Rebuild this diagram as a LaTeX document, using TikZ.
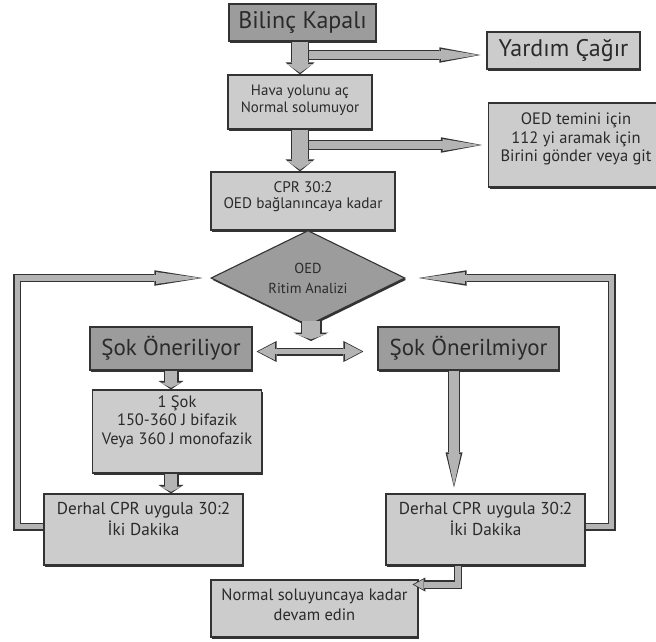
\documentclass[tikz,border=0pt]{standalone}
\usepackage{fontspec}
\setmainfont{PT Sans}
\usetikzlibrary{shapes,arrows.meta,calc,shadows}

\definecolor{boxfill}{HTML}{CCCCCC}
\definecolor{keyfill}{HTML}{9C9C9C}
\definecolor{pipefill}{HTML}{B4B4B4}
\definecolor{edgeline}{HTML}{333333}
\definecolor{inkline}{HTML}{2A2A2A}

\tikzset{
  box/.style={draw=edgeline, line width=1.1pt, fill=boxfill, text=inkline,
    inner sep=0pt, align=center,
    drop shadow={shadow xshift=1.2pt, shadow yshift=-1.8pt, fill=edgeline, opacity=1}},
  keybox/.style={box, fill=keyfill},
  txt/.style 2 args={font=\fontsize{#1}{#2}\selectfont},
  band/.style 2 args={text height=#1, text depth=#2},
  % block arrow: shaft width, head width, head length
  pipe/.style n args={3}{
    /utils/exec={\pgfmathsetlengthmacro\pipeS{#1+2.4pt}%
      \pgfmathsetlengthmacro\pipeW{#2+3.6pt}%
      \pgfmathsetlengthmacro\pipeL{#3+3.4pt}},
    preaction={draw=edgeline, line width=\pipeS, shorten >=0pt,
      -{Triangle[length=\pipeL, width=\pipeW, line width=0pt]}},
    draw=pipefill, line width=#1, shorten >=1.7pt,
    -{Triangle[length=#3, width=#2, line width=0pt]}},
  pipes/.style n args={3}{
    /utils/exec={\pgfmathsetlengthmacro\pipeS{#1+2.4pt}%
      \pgfmathsetlengthmacro\pipeW{#2+3.6pt}%
      \pgfmathsetlengthmacro\pipeL{#3+3.4pt}},
    preaction={draw=edgeline, line width=\pipeS, shorten >=0pt, shorten <=0pt,
      {Triangle[length=\pipeL, width=\pipeW, line width=0pt]}-{Triangle[length=\pipeL, width=\pipeW, line width=0pt]}},
    draw=pipefill, line width=#1, shorten >=1.7pt, shorten <=1.7pt,
    {Triangle[length=#3, width=#2, line width=0pt]}-{Triangle[length=#3, width=#2, line width=0pt]}},
}

\begin{document}
\begin{tikzpicture}[x=1pt, y=-1pt]
  \useasboundingbox (0,0) rectangle (656,641);
  % top column
  \node[keybox, txt={24}{28}, minimum width=147pt, minimum height=37pt] (bilinc) at (302.5,22.5) {Bilinç Kapalı};
  \node[box, txt={24}{28}, minimum width=153pt, minimum height=37pt] (yardim) at (563.5,50.5) {Yardım Çağır};
  \node[box, txt={15}{17.7}, minimum width=144pt, band={37.7pt}{16.3pt}] (hava) at (300,102) {Hava yolunu aç\\Normal solumuyor};
  \node[box, txt={16.5}{18.7}, minimum width=175pt, band={58.7pt}{25.3pt}] (oed) at (576,145) {OED temini için\\112 yi aramak için\\Birini gönder veya git};
  \node[box, txt={15.3}{16.5}, minimum width=184pt, band={36.5pt}{21.5pt}] (cpr) at (303,201) {CPR 30:2\\OED bağlanıncaya kadar};
  \node[keybox, diamond, aspect=2, txt={14.5}{20}, minimum width=194pt, minimum height=95pt] (ritim) at (308,278) {OED\\Ritim Analizi};
  % two branches
  \node[keybox, txt={23}{27}, minimum width=162pt, minimum height=43pt] (sokvar) at (171,348.5) {Şok Öneriliyor};
  \node[keybox, txt={23}{27}, minimum width=181pt, minimum height=43pt] (sokyok) at (468.5,348.5) {Şok Önerilmiyor};
  \node[box, txt={16.5}{18.5}, minimum width=169pt, band={54pt}{29pt}] (birsok) at (177,431.5) {1 Şok\\150-360 J bifazik\\Veya 360 J monofazik};
  \node[box, txt={17.2}{21.5}, minimum width=199pt, band={41.5pt}{29.5pt}] (derhalL) at (143.5,529.5) {Derhal CPR uygula 30:2\\İki Dakika};
  \node[box, txt={17.2}{21.5}, minimum width=199pt, band={41.5pt}{29.5pt}] (derhalR) at (485.5,529.5) {Derhal CPR uygula 30:2\\İki Dakika};
  \node[box, txt={16.5}{19.3}, minimum width=207pt, band={40pt}{17pt}] (normal) at (314.5,608.5) {Normal soluyuncaya kadar\\devam edin};

  % main arrows
  \draw[pipe={16.1pt}{25.4pt}{8.6pt}] (bilinc.south -| hava.north) -- (hava.north);
  \draw[pipe={16.1pt}{25.4pt}{8.6pt}] (hava.south) -- (hava.south |- cpr.north);
  \coordinate (b1) at (309,55);
  \coordinate (b2) at (309,145);
  \draw[pipe={7.6pt}{11.9pt}{37.6pt}] (b1) -- ([xshift=-6pt]b1 -| yardim.west);
  \draw[pipe={7.6pt}{11.9pt}{37.6pt}] (b2) -- ([xshift=-6pt]b2 -| oed.west);
  \coordinate (d1) at (311,321);
  \coordinate (d2) at (311,341);
  \draw[pipe={18.6pt}{31.4pt}{5.1pt}] (d1) -- (d2);
  \draw[pipes={5.6pt}{17.4pt}{16.6pt}] ([shift={(4,3)}]sokvar.east) -- ([shift={(-14,3)}]sokyok.west);
  % left branch
  \draw[pipe={12.6pt}{21.4pt}{5.1pt}] (sokvar.south) -- (sokvar.south |- birsok.north);
  \draw[pipe={12.6pt}{21.4pt}{5.1pt}] (birsok.south -| sokvar.south) -- (sokvar.south |- derhalL.north);
  % right branch
  \coordinate (c1) at ($(sokyok.south)+(-14.5,0)$);
  \draw[pipe={9.6pt}{13.4pt}{31.6pt}] (c1) -- ([yshift=6pt]c1 |- derhalR.north);
  \coordinate (e1) at ($(derhalR.south)+(-27.5,0)$);
  \draw[pipe={6pt}{10.4pt}{9.3pt}] (e1) |- ([shift={(-6,-24)}]normal.east);
  % loops back to the analysis
  \draw[pipe={5.6pt}{11.9pt}{44.6pt}] ([yshift=3pt]derhalL.west) -- ++(-26,0) |- ([xshift=-8pt]ritim.west);
  \draw[pipe={5.6pt}{11.9pt}{44.6pt}] ([yshift=3pt]derhalR.east) -- ++(26,0) |- ([xshift=13pt]ritim.east);
\end{tikzpicture}
\end{document}
